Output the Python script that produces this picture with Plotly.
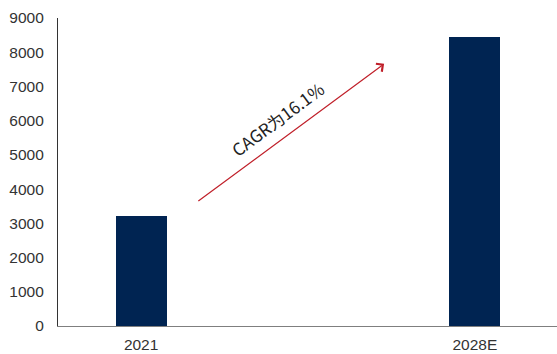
import plotly.graph_objects as go

# Market size values by year
years = ["2021", "2028E"]
values = [3200, 8440]
y_ticks = [0, 1000, 2000, 3000, 4000, 5000, 6000, 7000, 8000, 9000]
cagr_label = "CAGR为16.1%"

fig = go.Figure()
fig.add_trace(go.Bar(
    x=years,
    y=values,
    width=0.153,
    marker=dict(color="#002452", line=dict(width=0)),
))

# Growth arrow with rotated CAGR caption
fig.add_annotation(
    x=0.728, y=7660, ax=0.167, ay=3620,
    xref="x", yref="y", axref="x", ayref="y",
    showarrow=True, arrowhead=4, arrowsize=1.6, arrowwidth=1.2,
    arrowcolor="#C0202A", text="",
)
fig.add_annotation(
    x=0.410, y=6050, xref="x", yref="y",
    text=cagr_label, showarrow=False, textangle=-36.6,
    font=dict(family="Noto Sans CJK SC", size=17, color="#222222"),
)

tick_font = dict(family="Liberation Sans, Arial", size=15.5, color="#333333")

fig.update_layout(
    width=557, height=354,
    margin=dict(l=58, r=0, t=18, b=28),
    paper_bgcolor="white", plot_bgcolor="white",
    showlegend=False,
    bargap=0,
)
fig.update_xaxes(
    type="category", range=[-0.249, 1.246],
    showline=True, linecolor="#7f7f7f", linewidth=1.2,
    showgrid=False, zeroline=False, ticks="",
    tickfont=tick_font, ticklabelstandoff=4,
)
fig.update_yaxes(
    range=[0, 9000], tickvals=y_ticks,
    showline=True, linecolor="#333333", linewidth=1.2,
    showgrid=False, zeroline=False, ticks="",
    tickfont=tick_font, ticklabelstandoff=10,
)

fig.write_html("out.html")
